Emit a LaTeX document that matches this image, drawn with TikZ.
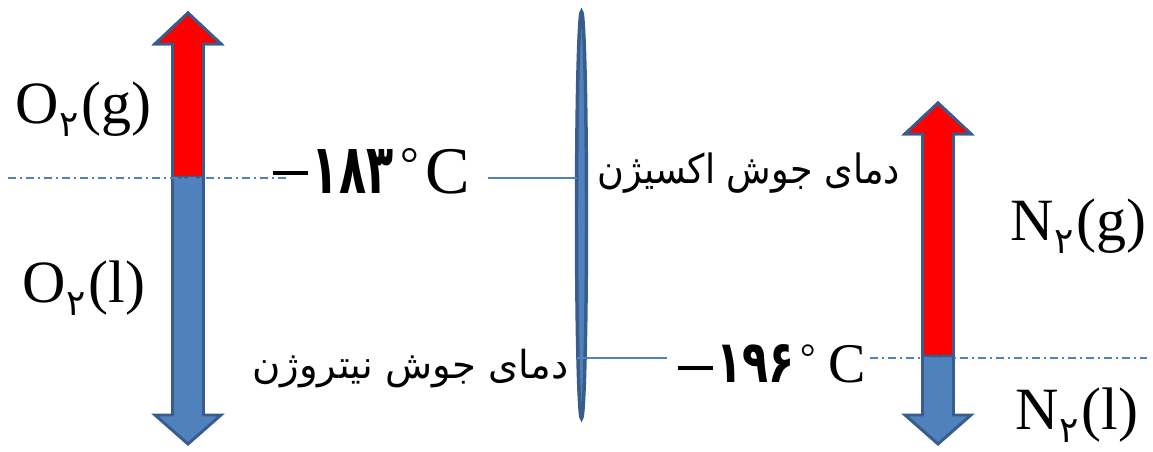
\documentclass[tikz,border=0pt]{standalone}
\usepackage{fontspec}
\setmainfont{Liberation Serif}
\newfontfamily\arabicfont[Script=Arabic]{DejaVu Sans}
\TeXXeTstate=1
\usetikzlibrary{shapes.geometric}
\definecolor{fillblue}{HTML}{4F81BD}
\definecolor{edgeblue}{HTML}{385D8A}
\definecolor{pureRed}{HTML}{FF0000}
\tikzset{
  arrowbody/.style={fill=fillblue, draw=edgeblue, line width=2.2pt, line join=miter},
  redbody/.style={fill=pureRed, draw=edgeblue, line width=2.2pt, line join=miter},
  dashdot/.style={draw=fillblue, line width=0.9pt, dash pattern=on 6pt off 3pt on 1.5pt off 3pt},
  link/.style={draw=fillblue, line width=1.1pt},
  lbl/.style={inner sep=0pt, anchor=base west, font=\fontsize{45}{45}\selectfont},
  temp/.style={inner sep=0pt, anchor=base west},
  farsi/.style={inner sep=0pt, anchor=base west},
}
\newcommand{\subtwo}{\hspace{0.5pt}\raisebox{-10pt}{\fontsize{27}{27}\selectfont\arabicfont ۲}\hspace{2.5pt}}
\begin{document}
\begin{tikzpicture}[x=0.75pt,y=-0.75pt]
\useasboundingbox (0,0) rectangle (1153,451);
% left double arrow (O2)
\draw[arrowbody] (188,13) -- (221,44) -- (203.5,44) -- (203.5,415) -- (221,415) -- (188,444)
  -- (155,415) -- (172.5,415) -- (172.5,44) -- (155,44) -- cycle;
\draw[redbody] (188,13) -- (221,44) -- (203.5,44) -- (203.5,177) -- (172.5,177) -- (172.5,44) -- (155,44) -- cycle;
% right double arrow (N2)
\draw[arrowbody] (938,103) -- (971,134) -- (953.5,134) -- (953.5,415) -- (971,415) -- (938,444)
  -- (905,415) -- (922.5,415) -- (922.5,134) -- (905,134) -- cycle;
\draw[redbody] (938,103) -- (971,134) -- (953.5,134) -- (953.5,356) -- (922.5,356) -- (922.5,134) -- (905,134) -- cycle;
% central ellipse
\node[ellipse, fill=fillblue, draw=edgeblue, line width=2.6pt, minimum width=7.5pt,
      minimum height=305pt, inner sep=0pt] (ell) at (581.5,215) {};
% links
\coordinate (a1) at (488,178);
\coordinate (b1) at (667,358);
\draw[link] (a1) -- ([xshift=1.5pt]ell.west |- a1);
\draw[link] ([xshift=2pt]ell.west |- b1) -- (b1);
% dash-dot lines
\coordinate (d1) at (8,178);
\coordinate (d2) at (290,178);
\draw[dashdot] (d1) -- (d2);
\coordinate (e1) at (870,358);
\coordinate (e2) at (1147,358);
\draw[dashdot] (e1) -- (e2);
% labels
\node[lbl] (o2g) at (15,123) {O\subtwo(g)};
\node[lbl] (o2l) at (22,302) {O\subtwo(l)};
\node[lbl] (n2g) at (1010,240) {N\subtwo(g)};
\node[lbl] (n2l) at (1015,429) {N\subtwo(l)};
\node[temp, font=\fontsize{50}{50}\selectfont] (t183) at (273,193)
  {\rule[13.5pt]{26pt}{3pt}\hspace{3pt}\resizebox{61pt}{33pt}{\arabicfont\bfseries ۱۸۳}\hspace{5.5pt}\raisebox{10pt}{\fontsize{35}{35}\selectfont °}\hspace{5pt}C};
\node[temp, font=\fontsize{42}{42}\selectfont] (t196) at (678,382)
  {\rule[9pt]{26pt}{3pt}\hspace{3pt}\resizebox{58.5pt}{28.5pt}{\arabicfont\bfseries ۱۹۶}\hspace{4.5pt}\raisebox{8.5pt}{\fontsize{29}{29}\selectfont °}\hspace{9pt}C};
\node[farsi] (oxy) at (597,183)
  {\resizebox{227pt}{23pt}{\arabicfont\beginR دمای جوش اکسیژن\endR}};
\node[farsi] (nit) at (252,378)
  {\resizebox{237pt}{22pt}{\arabicfont\beginR دمای جوش نیتروژن\endR}};
\end{tikzpicture}
\end{document}
